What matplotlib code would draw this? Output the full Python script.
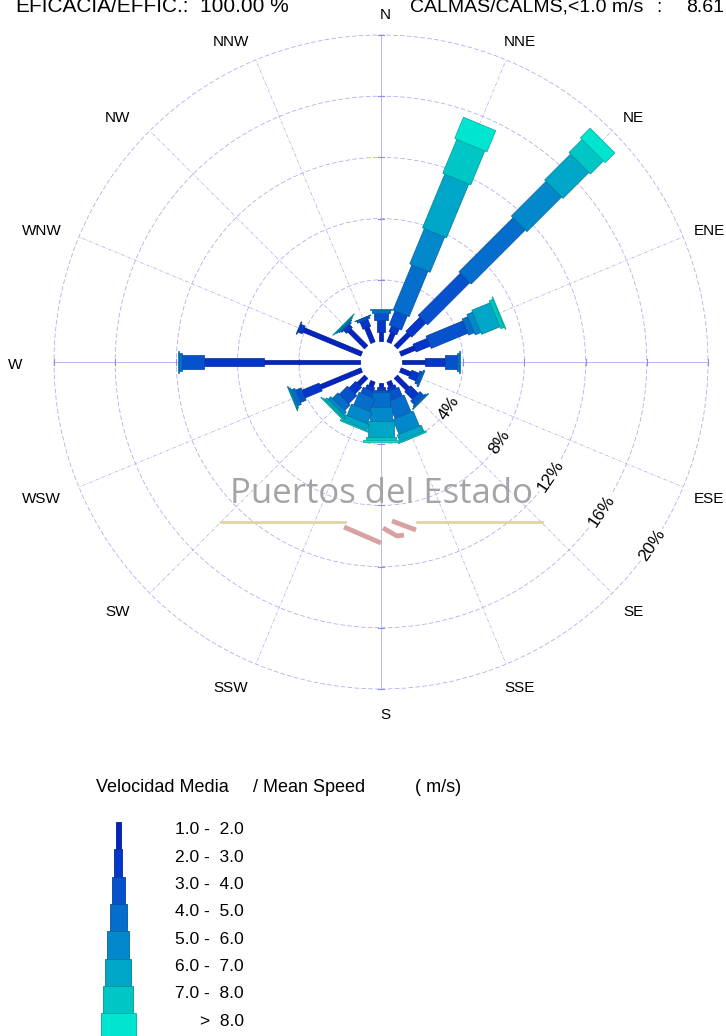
import numpy as np
import matplotlib
matplotlib.use('Agg')
import matplotlib.pyplot as plt
from matplotlib.patches import Polygon, Circle
from matplotlib.colors import to_rgb

plt.rcParams['font.family'] = ['Liberation Sans', 'DejaVu Sans']

# direcciones (N, NNE, ... NNW) y clases de velocidad
direcciones = ['N', 'NNE', 'NE', 'ENE', 'E', 'ESE', 'SE', 'SSE',
               'S', 'SSW', 'SW', 'WSW', 'W', 'WNW', 'NW', 'NNW']
clases = ['1.0 -  2.0', '2.0 -  3.0', '3.0 -  4.0', '4.0 -  5.0',
          '5.0 -  6.0', '6.0 -  7.0', '7.0 -  8.0', '>  8.0']

# frecuencia (%) de cada clase por direccion
clase1 = [0.60, 0.67, 1.20, 1.00, 1.50, 0.70, 1.10, 0.35, 0.25, 0.35, 0.70, 2.90, 6.30, 4.10, 1.55, 1.05]
clase2 = [0.77, 0.40, 1.30, 1.00, 1.30, 0.50, 0.70, 0.25, 0.20, 0.25, 0.60, 1.20, 3.90, 0.30, 0.25, 0.50]
clase3 = [0.43, 1.00, 3.90, 2.60, 0.80, 0.20, 0.35, 0.60, 0.15, 0.40, 0.75, 0.40, 1.45, 0.05, 0.10, 0.15]
clase4 = [0.25, 3.20, 5.00, 0.40, 0.15, 0.10, 0.10, 1.20, 0.95, 0.90, 0.50, 0.25, 0.20, 0.00, 0.08, 0.03]
clase5 = [0.05, 2.50, 3.20, 0.40, 0.05, 0.00, 0.05, 1.05, 0.95, 0.80, 0.25, 0.10, 0.05, 0.00, 0.06, 0.00]
clase6 = [0.00, 3.80, 2.40, 1.30, 0.00, 0.00, 0.00, 0.45, 1.00, 0.40, 0.15, 0.05, 0.00, 0.00, 0.04, 0.00]
clase7 = [0.00, 2.40, 1.20, 0.25, 0.00, 0.00, 0.00, 0.10, 0.25, 0.10, 0.07, 0.00, 0.00, 0.00, 0.02, 0.00]
clase8 = [0.00, 1.50, 0.90, 0.05, 0.00, 0.00, 0.00, 0.00, 0.10, 0.00, 0.03, 0.00, 0.00, 0.00, 0.00, 0.00]

anillos = [4, 8, 12, 16, 20]
eficacia = 100.00
calmas = 8.61

colores = ['#0424c0', '#0436cc', '#0652cc', '#056ecc', '#0388cc', '#00a6c8', '#00c6c6', '#00e5cf']
anchos_px = [4.7, 8.3, 13.3, 17.3, 22, 26, 30.3, 35]
rejilla = '#a9a9ee'

s = 15.3          # pixeles por 1 %
r0 = 21 / s       # radio del circulo de calmas
W, H = 726, 1036
cx, cy = 381, 362

fig = plt.figure(figsize=(W / 100, H / 100), dpi=100)
ax = fig.add_axes([0, 0, 1, 1])
ax.set_xlim(-cx / s, (W - cx) / s)
ax.set_ylim(-(H - cy) / s, cy / s)
ax.axis('off')

ang = np.deg2rad(np.arange(16) * 22.5)
tabla = np.array([clase1, clase2, clase3, clase4, clase5, clase6, clase7, clase8])
acum = np.vstack([np.zeros(16), np.cumsum(tabla, axis=0)])

# rejilla: anillos y radios
for p in anillos:
    ax.add_patch(Circle((0, 0), r0 + p, fill=False, ec=rejilla, lw=0.55,
                        ls=(0, (6, 3)), zorder=1))
for j, a in enumerate(ang):
    u = np.array([np.sin(a), np.cos(a)])
    principal = j % 4 == 0
    ax.plot([r0 * u[0], (r0 + 20) * u[0]], [r0 * u[1], (r0 + 20) * u[1]],
            color='#b8b8f4' if principal else rejilla, lw=0.7 if principal else 0.5,
            ls='-' if principal else (0, (5, 2, 1, 2)), zorder=1)
    if principal:
        v = np.array([u[1], -u[0]])
        for p in anillos:
            c = (r0 + p) * u
            ax.plot([c[0] - 0.2 * v[0], c[0] + 0.2 * v[0]],
                    [c[1] - 0.2 * v[1], c[1] + 0.2 * v[1]], color='#8c8cf0', lw=0.8, zorder=1)

# barras de la rosa
for k in range(8):
    w = anchos_px[k] / s / 2
    borde = tuple(np.array(to_rgb(colores[k])) * 0.75)
    for j in range(16):
        if tabla[k, j] <= 0:
            continue
        a, b = r0 + acum[k, j], r0 + acum[k + 1, j]
        u = np.array([np.sin(ang[j]), np.cos(ang[j])])
        v = np.array([np.cos(ang[j]), -np.sin(ang[j])])
        pts = [a * u + w * v, b * u + w * v, b * u - w * v, a * u - w * v]
        ax.add_patch(Polygon(pts, closed=True, fc=colores[k], ec=borde, lw=0.5, zorder=3))

# etiquetas de direccion
R = 350 / s
for d, a in zip(direcciones, ang):
    sx = np.sin(a)
    off = 5 if sx > 0.01 else (-16 if sx < -0.01 else 4)
    ax.text(R * sx + off / s, R * np.cos(a) - 3 / s, d, ha='center', va='center',
            fontsize=11, color='black')

# etiquetas de porcentaje
ap = np.deg2rad(124)
for p in anillos:
    r = r0 + p
    ax.text(r * np.sin(ap), r * np.cos(ap), f'{p}%', rotation=56, ha='center', va='center',
            fontsize=12.5, zorder=4,
            bbox=dict(boxstyle='square,pad=0.1', fc='white', ec='none'))

# capa en pixeles para cabecera, marca de agua y leyenda
lax = fig.add_axes([0, 0, 1, 1])
lax.set_xlim(0, W)
lax.set_ylim(H, 0)
lax.axis('off')
lax.patch.set_alpha(0)

lax.text(15, 12, 'EFICACIA/EFFIC.:', fontsize=15, va='baseline')
lax.text(200, 12, f'{eficacia:.2f} %', fontsize=15, va='baseline')
lax.text(410, 12, 'CALMAS/CALMS,<1.0 m/s', fontsize=14, va='baseline')
lax.text(656, 12, ':', fontsize=14, va='baseline')
lax.text(686, 12, f'{calmas:.2f}', fontsize=14, va='baseline')

# marca de agua
lax.text(381, 503, 'Puertos del Estado', family=['Open Sans', 'DejaVu Sans'], fontsize=25,
         color='#a4a4a4', ha='center', va='baseline', zorder=5)
lax.plot([221, 345], [522, 522], color='#e2d4a2', lw=2)
lax.plot([417, 542], [522, 522], color='#e2d4a2', lw=2)
for xs, ys in [([344, 381], [527, 543]), ([383, 397, 404], [528, 536, 535]),
               ([392, 416], [521, 530])]:
    lax.plot(xs, ys, color='#d9a2a2', lw=3.5, solid_capstyle='butt')

# leyenda
lax.text(96, 792, 'Velocidad Media', fontsize=13, va='baseline')
lax.text(253, 792, '/ Mean Speed', fontsize=13, va='baseline')
lax.text(415, 792, '( m/s)', fontsize=13, va='baseline')
alto = 27.3
bordes = [tuple(np.array(to_rgb(c)) * 0.75) for c in colores]
lax.bar([118.3] * 8, [alto] * 8, width=anchos_px, bottom=822 + alto * np.arange(8),
        color=colores, edgecolor=bordes, linewidth=0.6)
for k, c in enumerate(clases):
    lax.text(244, 830 + alto * k, c, fontsize=12.5, ha='right', va='center')

fig.savefig('out.png', dpi=100)
